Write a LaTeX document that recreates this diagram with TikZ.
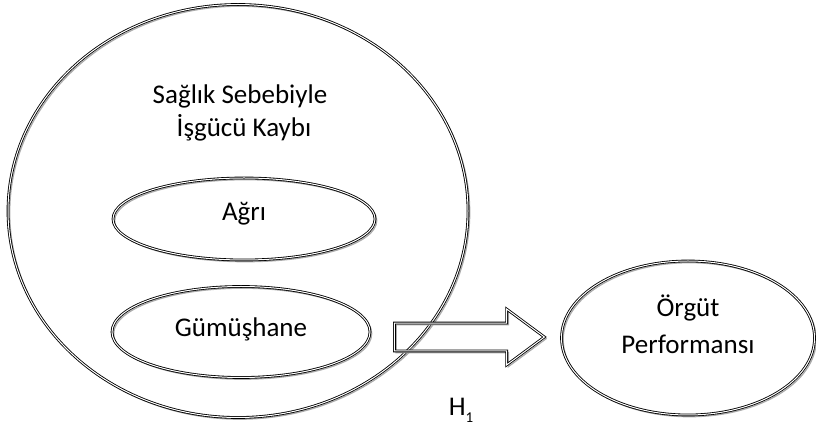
\documentclass[tikz,border=0pt]{standalone}
\usepackage{fontspec}
\setmainfont{Carlito}
\usetikzlibrary{shapes.geometric,shapes.arrows}

\tikzset{
    ring/.style={draw, line width=0.85pt, double=white, double distance=1pt, inner sep=0pt,
        preaction={draw=gray!65, line width=1.3pt, transform canvas={shift={(1.7pt,-1.7pt)}}}},
    blob/.style={ring, ellipse},
    txt/.style={font=\fontsize{27}{37}\selectfont, align=center},
}

\begin{document}
\begin{tikzpicture}[x=1pt, y=1pt]
    \useasboundingbox (0,0) rectangle (816,428);

    % big circle with its title
    \node[blob, minimum width=460, minimum height=413] (kayip) at (238,217) {};
    \node[txt, font=\fontsize{27}{33}\selectfont] (baslik) at (240,315)
        {Sağlık Sebebiyle\\ \hspace*{8pt}İşgücü Kaybı};

    % inner ellipses
    \node[blob, minimum width=262, minimum height=82] (agri) at (244,209) {};
    \node[txt] (agriyazi) at ([yshift=5]agri.center) {Ağrı};
    \node[blob, minimum width=258, minimum height=91] (gumus) at (241,96) {};
    \node[txt] (gumusyazi) at ([yshift=3]gumus.center) {Gümüşhane};

    % outcome
    \node[blob, minimum width=253, minimum height=154] (orgut) at (688,90) {};
    \node[txt] (orgutyazi) at ([yshift=14]orgut.center) {Örgüt\\ Performansı};

    % block arrow
    \node[ring, single arrow, inner xsep=0pt, inner ysep=13.5pt,
        minimum height=150, single arrow head extend=14, single arrow tip angle=73,
        single arrow head indent=0] (ok) at (460,91) {};
    \node[font=\fontsize{27}{30}\selectfont] (hip) at (461,18)
        {H\raisebox{-7pt}{\fontsize{15}{15}\selectfont 1}};
\end{tikzpicture}
\end{document}
